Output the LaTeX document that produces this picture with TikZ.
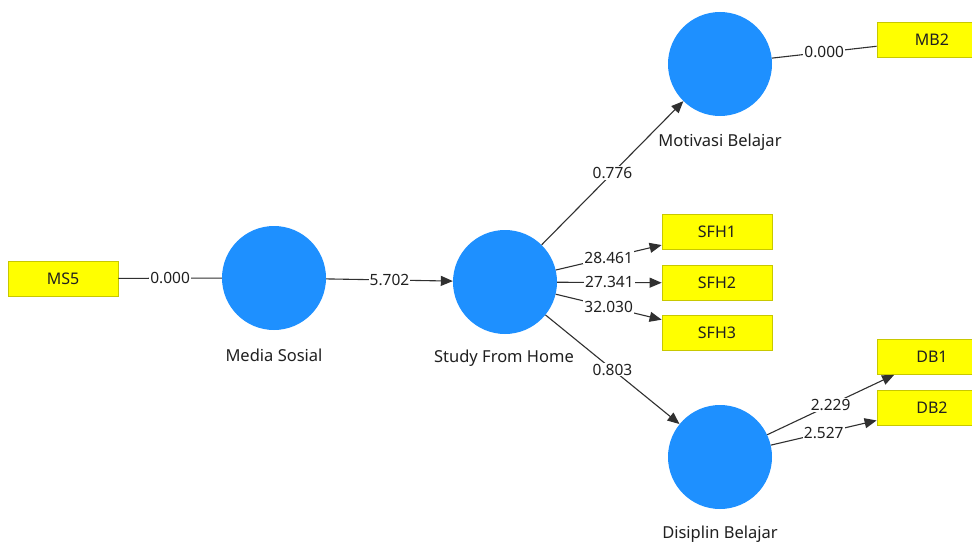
\documentclass[tikz,border=0pt]{standalone}
\usepackage{fontspec}
\setmainfont{Noto Sans}
\usetikzlibrary{arrows.meta}
\definecolor{lvblue}{HTML}{1E90FF}
\definecolor{indyellow}{HTML}{FFFF00}
\definecolor{indborder}{HTML}{C8C800}
\definecolor{linegray}{HTML}{303030}
\definecolor{txt}{HTML}{202020}
\tikzset{
  ind/.style={rectangle, fill=indyellow, draw=indborder, line width=0.8pt, minimum width=110pt, minimum height=35pt, inner sep=0pt, font=\fontsize{16}{18}\selectfont, text=txt},
  lv/.style={circle, fill=lvblue, draw=none, minimum size=104pt, inner sep=0pt},
  lvlabel/.style={font=\fontsize{16.5}{19}\selectfont, text=txt, inner sep=0pt},
  conn/.style={draw=linegray, line width=1.1pt},
  arr/.style={conn, -{Triangle[length=12pt,width=10pt]}, shorten >=0pt},
  lbl/.style={fill=white, inner sep=1pt, font=\fontsize{15.5}{17}\selectfont, text=txt}
}
\begin{document}
\begin{tikzpicture}[x=1pt,y=-1pt]
\clip (0,0) rectangle (972,543);
\fill[white] (0,0) rectangle (972,543);
% latent variables
\node[lv] (MS) at (274,278) {};
\node[lv] (SFH) at (505,282) {};
\node[lv] (MOT) at (720,64) {};
\node[lv] (DIS) at (720,457) {};
\node[lvlabel] (MSl) at (274,355) {Media Sosial};
\node[lvlabel] (SFHl) at (504,358) {Study From Home};
\node[lvlabel] (MOTl) at (720,142) {Motivasi Belajar};
\node[lvlabel] (DISl) at (720,534) {Disiplin Belajar};
% indicators
\node[ind] (MS5) at (63,278.5) {MS5};
\node[ind] (MB2) at (932,40) {MB2};
\node[ind] (SFH1) at (717,232) {SFH1};
\node[ind] (SFH2) at (717,283) {SFH2};
\node[ind] (SFH3) at (717,333) {SFH3};
\node[ind] (DB1) at (932,357) {DB1};
\node[ind] (DB2) at (932,407.5) {DB2};
% connectors
\draw[conn] (MS5) -- node[lbl] {0.000} (MS);
\draw[arr] (MS) -- node[lbl] {5.702} (SFH);
\draw[arr] (SFH) -- node[lbl] {0.776} (MOT);
\draw[arr] (SFH) -- node[lbl] {0.803} (DIS);
\draw[arr] (SFH) -- node[lbl] {28.461} (SFH1);
\draw[arr] (SFH) -- node[lbl] {27.341} (SFH2);
\draw[arr] (SFH) -- node[lbl] {32.030} (SFH3);
\draw[conn] (MOT) -- node[lbl] {0.000} (MB2);
\draw[arr] (DIS) -- node[lbl] {2.229} (DB1);
\draw[arr] (DIS) -- node[lbl] {2.527} (DB2);
\end{tikzpicture}
\end{document}
